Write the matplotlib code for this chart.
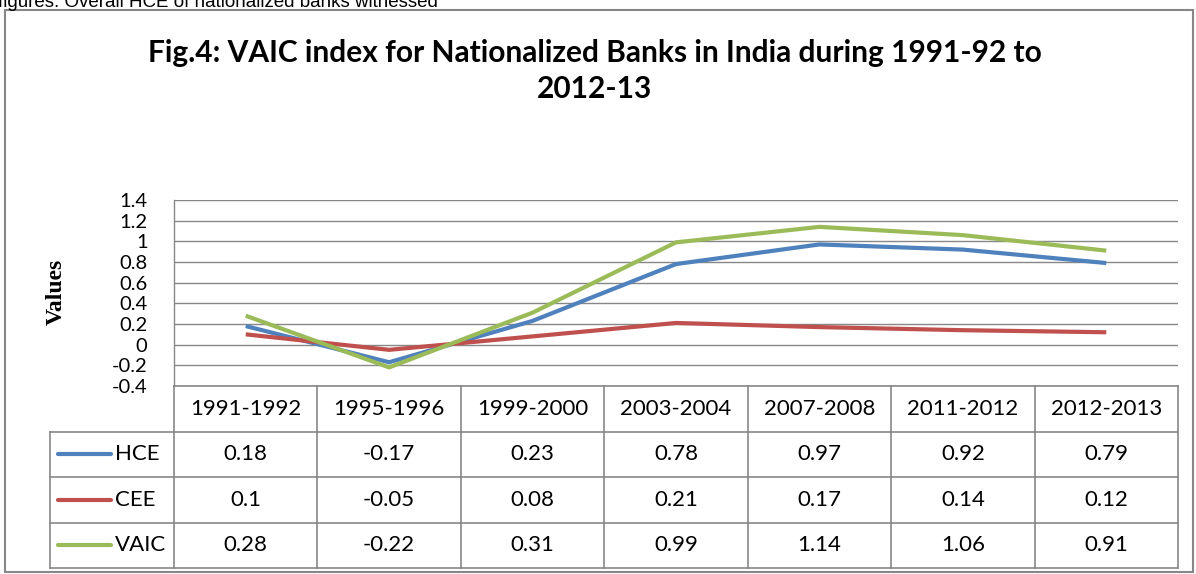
import matplotlib.pyplot as plt
import numpy as np

periods = ['1991-1992', '1995-1996', '1999-2000', '2003-2004', '2007-2008', '2011-2012', '2012-2013']
hce = [0.18, -0.17, 0.23, 0.78, 0.97, 0.92, 0.79]
cee = [0.1, -0.05, 0.08, 0.21, 0.17, 0.14, 0.12]
vaic = [0.28, -0.22, 0.31, 0.99, 1.14, 1.06, 0.91]
series_names = ['HCE', 'CEE', 'VAIC']
series_colors = ['#4F81BD', '#C0504D', '#9BBB59']
yticks = [-0.4, -0.2, 0, 0.2, 0.4, 0.6, 0.8, 1, 1.2, 1.4]

W, H = 1196., 574.
grid_c = '#878787'
font = 'Lato'


def fx(px):
    return px / W


def fy(py):
    return 1 - py / H


fig = plt.figure(figsize=(11.96, 5.74), dpi=100)

# text of the page above the chart, cut at the top
fig.text(fx(-2), fy(7), 'figures. Overall HCE of nationalized banks witnessed',
         family='Liberation Sans', fontsize=13.5, va='baseline', ha='left')

# chart border
fig.add_artist(plt.Rectangle((fx(5), fy(572)), fx(1193) - fx(5), fy(10) - fy(572),
                             transform=fig.transFigure, fill=False, ec=grid_c, lw=1.5))

fig.text(fx(595), fy(71), 'Fig.4: VAIC index for Nationalized Banks in India during 1991-92 to\n2012-13',
         family=font, weight='bold', fontsize=21.5, ha='center', va='center', linespacing=1.35)

left, right, top, bottom = 174, 1178, 200, 386
ax = fig.add_axes([fx(left), fy(bottom), fx(right) - fx(left), fy(top) - fy(bottom)])
x = np.arange(len(periods))
for vals, c in zip([hce, cee, vaic], series_colors):
    ax.plot(x, vals, color=c, lw=3, solid_capstyle='butt', zorder=3)
ax.set_xlim(-0.5, 6.5)
ax.set_ylim(-0.4, 1.4)
ax.set_yticks(yticks)
ax.set_yticklabels(['%g' % v for v in yticks], family=font, fontsize=14.5)
ax.set_xticks([])
ax.tick_params(axis='y', length=0, pad=19)
ax.grid(axis='y', color=grid_c, lw=1)
for s in ['top', 'right', 'bottom']:
    ax.spines[s].set_visible(False)
ax.spines['left'].set_color(grid_c)
ax.spines['left'].set_linewidth(1)

fig.text(fx(56), fy(292), 'Values', family='Liberation Serif', weight='bold',
         fontsize=17, rotation=90, ha='center', va='center')

# data table
tb = 568
tax = fig.add_axes([fx(left), fy(tb), fx(right) - fx(left), fy(bottom) - fy(tb)])
tax.set_xlim(-0.5, 6.5)
tax.set_ylim(4, 0)
tax.axis('off')
unit = (right - left) / 7.


def dx(px):
    return -0.5 + (px - left) / unit


xl = dx(50)
kw = dict(color=grid_c, lw=1.2, clip_on=False)
tax.plot([-0.5, 6.5], [0, 0], **kw)
for r in [1, 2, 3, 4]:
    tax.plot([xl, 6.5], [r, r], **kw)
for k in range(8):
    tax.plot([-0.5 + k, -0.5 + k], [0, 4], **kw)
tax.plot([xl, xl], [1, 4], **kw)

fs = 16
for i, p in enumerate(periods):
    tax.text(i, 0.5, p, family=font, fontsize=fs, ha='center', va='center')
for r, (name, c, vals) in enumerate(zip(series_names, series_colors, [hce, cee, vaic])):
    y = r + 1.5
    tax.plot([dx(58), dx(111)], [y, y], color=c, lw=3, solid_capstyle='round', clip_on=False)
    tax.text(dx(115), y, name, family=font, fontsize=fs, ha='left', va='center')
    for i, v in enumerate(vals):
        tax.text(i, y, '%g' % v, family=font, fontsize=fs, ha='center', va='center')

fig.savefig('out.png', dpi=100)
